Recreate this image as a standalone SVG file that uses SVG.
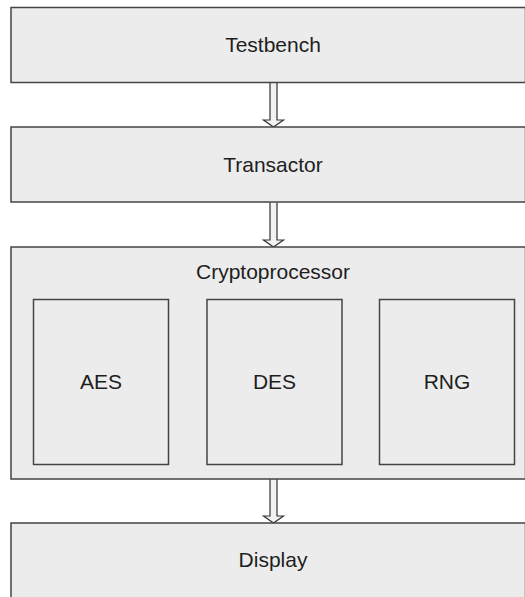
<svg xmlns="http://www.w3.org/2000/svg" width="525" height="597" viewBox="0 0 525 597">
<style>
.box{fill:#ececec;stroke:#444;stroke-width:1.5}
.lbl{font-family:"Liberation Sans",Arial,sans-serif;font-size:21px;fill:#1e1e1e;text-anchor:middle}
.arr{fill:#f2f2f2;stroke:#333;stroke-width:1.2;stroke-linejoin:miter}
</style>
<rect x="0" y="0" width="525" height="597" fill="#ffffff"/>
<g id="connectors">
<path class="arr" d="M270,83 V120 H263.5 L273.5,127 L283.5,120 H277 V83"/>
<path class="arr" d="M270,202.5 V240 H263.5 L273.5,247 L283.5,240 H277 V202.5"/>
<path class="arr" d="M270,479 V516 H263.5 L273.5,523 L283.5,516 H277 V479"/>
</g>
<g id="testbench">
<rect class="box" x="11" y="7.5" width="514.5" height="75"/>
<text class="lbl" x="273" y="52">Testbench</text>
</g>
<g id="transactor">
<rect class="box" x="11" y="127" width="514.5" height="75"/>
<text class="lbl" x="273" y="172">Transactor</text>
</g>
<g id="cryptoprocessor">
<rect class="box" x="11" y="247" width="514.5" height="232"/>
<text class="lbl" x="273" y="279">Cryptoprocessor</text>
</g>
<g id="aes">
<rect class="box" x="33.5" y="299.5" width="135" height="165"/>
<text class="lbl" x="101" y="389">AES</text>
</g>
<g id="des">
<rect class="box" x="207" y="299.5" width="135" height="165"/>
<text class="lbl" x="274.5" y="389">DES</text>
</g>
<g id="rng">
<rect class="box" x="379.5" y="299.5" width="135" height="165"/>
<text class="lbl" x="447" y="389">RNG</text>
</g>
<g id="display">
<rect class="box" x="11" y="523" width="514.5" height="80"/>
<text class="lbl" x="273" y="567">Display</text>
</g>
</svg>
